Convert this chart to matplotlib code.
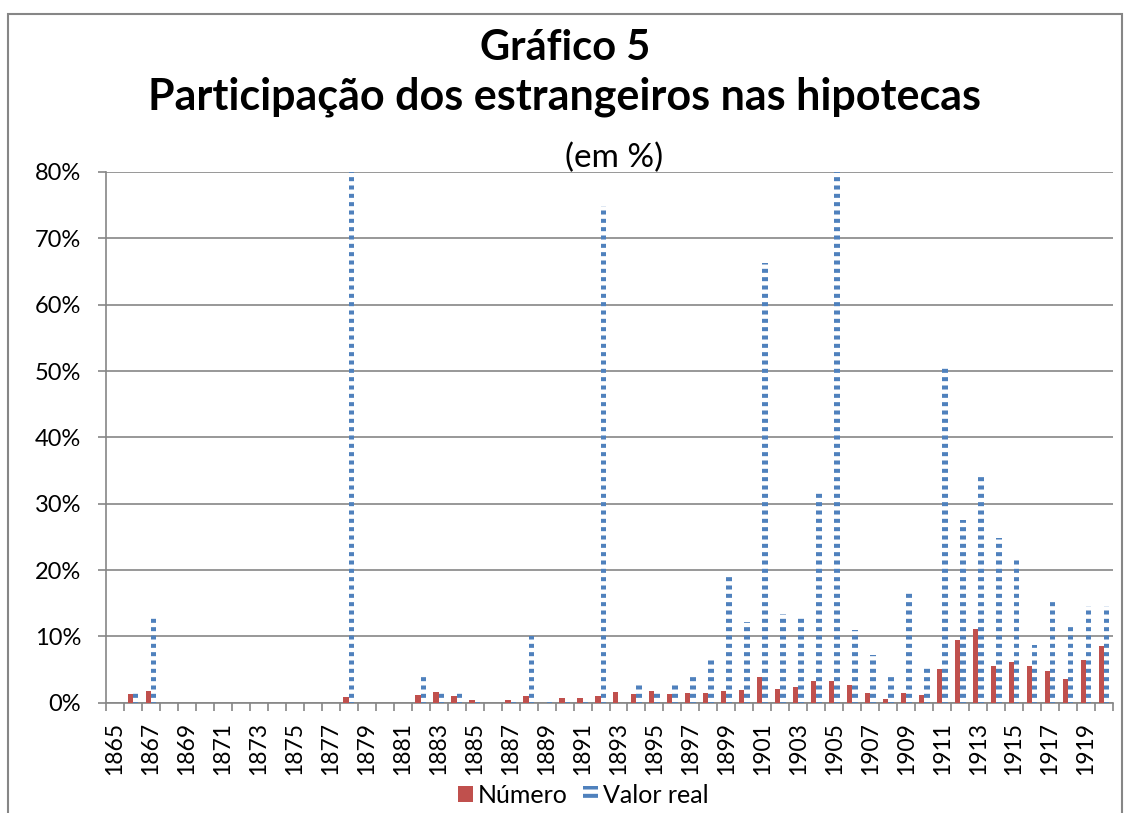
import numpy as np
import matplotlib
matplotlib.use("Agg")
import matplotlib.pyplot as plt
from matplotlib.patches import Rectangle, Patch

# Dados: participação dos estrangeiros nas hipotecas (%)
anos = list(range(1865, 1921))

numero = [
    0, 1.27, 1.8, 0, 0, 0, 0, 0, 0, 0,          # 1865-1874
    0, 0, 0, 0.86, 0, 0, 0, 1.17, 1.6, 1.0,      # 1875-1884
    0.35, 0, 0.45, 0.97, 0, 0.7, 0.7, 1.0, 1.6, 1.36,   # 1885-1894
    1.77, 1.3, 1.47, 1.47, 1.7, 1.97, 3.9, 2.07, 2.37, 3.2,  # 1895-1904
    3.3, 2.68, 1.5, 0.5, 1.5, 1.17, 5.15, 9.5, 11.06, 5.5,  # 1905-1914
    6.17, 5.56, 4.85, 3.5, 6.4, 8.5,             # 1915-1920
]

valor_real = [
    0, 1.4, 13.0, 0, 0, 0, 0, 0, 0, 0,           # 1865-1874
    0, 0, 0, 80.0, 0, 0, 0, 4.15, 1.9, 1.9,      # 1875-1884
    0.3, 0, 0.7, 10.1, 0.7, 0.2, 0.35, 74.8, 0, 3.1,    # 1885-1894
    1.9, 2.9, 4.2, 6.6, 19.2, 12.1, 66.3, 13.3, 12.9, 32.1,  # 1895-1904
    80.0, 11.0, 7.2, 4.25, 17.0, 5.2, 50.7, 27.6, 34.5, 24.8,  # 1905-1914
    21.7, 8.7, 15.6, 11.9, 14.6, 14.6,           # 1915-1920
]

y_ticks = [0, 10, 20, 30, 40, 50, 60, 70, 80]

red = "#C0504D"
blue = "#4F81BD"
grey = "#868686"

plt.rcParams["font.family"] = ["Lato", "DejaVu Sans"]
plt.rcParams["hatch.linewidth"] = 2.9

fig = plt.figure(figsize=(11.3, 8.13), dpi=100)
ax = fig.add_axes([106 / 1130, 1 - 702.7 / 813, (1113 - 106) / 1130, (702.7 - 172) / 813])

x = np.arange(len(anos))
w = 0.3
ax.bar(x - w / 2, np.array(numero) / 100, width=w, color=red, zorder=3)
ax.bar(x + w / 2, np.array(valor_real) / 100, width=w, facecolor="none",
       edgecolor=blue, linewidth=0, hatch="--", zorder=3)

ax.set_xlim(-0.5, len(anos) - 0.5)
ax.set_ylim(0, 0.8)

ax.set_yticks([v / 100 for v in y_ticks])
ax.set_yticklabels([f"{v}%" for v in y_ticks], fontsize=17)
ax.yaxis.grid(True, color=grey, linewidth=1.2, zorder=0)
ax.tick_params(axis="y", length=6, width=1.2, color=grey, pad=12)

# ticks at category boundaries, labels at every other category
ax.set_xticks(np.arange(-0.5, len(anos), 1.0))
ax.set_xticklabels([])
ax.tick_params(axis="x", which="major", length=6, width=1.2, color=grey)
ax.set_xticks(x[::2], minor=True)
ax.set_xticklabels([str(a) for a in anos[::2]], minor=True, rotation=90, fontsize=16.5)
ax.tick_params(axis="x", which="minor", length=0, pad=14)

for side in ["top", "right"]:
    ax.spines[side].set_visible(False)
for side in ["left", "bottom"]:
    ax.spines[side].set_color(grey)
    ax.spines[side].set_linewidth(1.2)

fig.text(0.5, 1 - 48 / 813, "Gráfico 5", ha="center", va="center",
         fontsize=30, fontweight="bold")
fig.text(0.5, 1 - 97 / 813, "Participação dos estrangeiros nas hipotecas",
         ha="center", va="center", fontsize=31, fontweight="bold")
fig.text(614 / 1130, 1 - 158 / 813, "(em %)", ha="center", va="center", fontsize=24)

handles = [Patch(facecolor=red, label="Número"),
           Patch(facecolor="none", edgecolor=blue, linewidth=0, hatch="--", label="Valor real")]
fig.legend(handles=handles, loc="center", bbox_to_anchor=(583 / 1130, 1 - 795 / 813),
           ncol=2, frameon=False, fontsize=18, handlelength=0.6, handleheight=0.6,
           handletextpad=0.2, columnspacing=0.6)

fig.patches.append(Rectangle((8 / 1130, -0.05), (1122 - 8) / 1130, 1.05 - 14 / 813,
                             transform=fig.transFigure, fill=False,
                             edgecolor=grey, linewidth=1.5))

fig.savefig("out.png", dpi=100)
